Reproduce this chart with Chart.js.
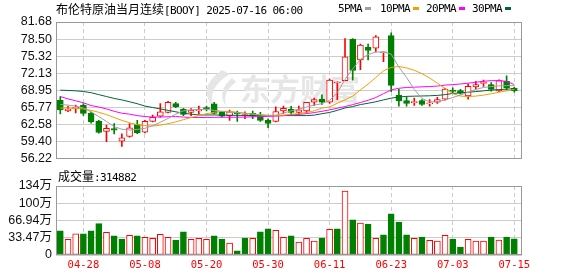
<!DOCTYPE html>
<html>
<head>
<meta charset="utf-8">
<script src="https://cdn.jsdelivr.net/npm/chart.js@4.4.0/dist/chart.umd.min.js"></script>
<style>
    body { margin: 0; background: #fff; }
    #wrap { position: relative; width: 578px; height: 276px; overflow: hidden; background: #fff; }
    canvas { position: absolute; left: 0; }
    .txt { position: absolute; white-space: nowrap; font: 12px/12px 'Noto Sans CJK SC'; color: #000; z-index: 2; }
    .lat { font: 11px/12px 'DejaVu Sans Mono'; letter-spacing: -0.6px; }
    .mk { position: absolute; width: 6px; height: 3px; top: 7px; z-index: 2; }
</style>
</head>
<body>
<div id="wrap">
    <canvas id="kline" width="578" height="170" style="top:0"></canvas>
    <canvas id="vol" width="578" height="106" style="top:170px"></canvas>

    <div class="txt" style="left:56px;top:3px">布伦特原油当月连续<span class="lat">[BOOY] 2025-07-16 06:00</span></div>

    <div class="txt lat" style="left:338px;top:3px">5PMA</div>
    <div class="mk" style="left:365px;background:#a0a0a0"></div>
    <div class="txt lat" style="left:380px;top:3px">10PMA</div>
    <div class="mk" style="left:413px;background:#f0a000"></div>
    <div class="txt lat" style="left:426px;top:3px">20PMA</div>
    <div class="mk" style="left:459px;background:#ff00ff"></div>
    <div class="txt lat" style="left:472px;top:3px">30PMA</div>
    <div class="mk" style="left:505px;background:#006633"></div>

    <div class="txt" style="left:58px;top:170px">成交量<span class="lat">:314882</span></div>
</div>

<script>
/**
 * K线 + 成交量 — gráfico de velas com médias móveis e volume (Chart.js).
 */

// Pregões (eixo x)
const DATAS = [
    '04-23', '04-24', '04-25', '04-28', '04-29', '04-30', '05-01', '05-02', '05-05', '05-06',
    '05-07', '05-08', '05-09', '05-12', '05-13', '05-14', '05-15', '05-16', '05-19', '05-20',
    '05-21', '05-22', '05-23', '05-26', '05-27', '05-28', '05-29', '05-30', '06-02', '06-03',
    '06-04', '06-05', '06-06', '06-09', '06-10', '06-11', '06-12', '06-13', '06-16', '06-17',
    '06-18', '06-19', '06-20', '06-23', '06-24', '06-25', '06-26', '06-27', '06-30', '07-01',
    '07-02', '07-03', '07-04', '07-07', '07-08', '07-09', '07-10', '07-11', '07-14', '07-15',
];

// Índices dos pregões que recebem rótulo
const ROTULOS_IDX = [3, 11, 19, 27, 35, 43, 51, 59];

const ABERTURA = [
    67.07, 65.10, 65.58, 66.17, 64.70, 63.21, 61.25, 61.79, 59.47, 60.36,
    62.57, 61.14, 63.15, 64.10, 64.81, 66.47, 65.41, 64.81, 65.10, 65.70,
    66.41, 64.81, 64.22, 64.81, 64.22, 64.63, 64.34, 63.33, 63.15, 65.11,
    65.41, 64.81, 65.11, 66.71, 67.30, 66.71, 70.30, 70.75, 78.44, 74.59,
    76.97, 76.79, 75.95, 79.15, 68.00, 67.00, 66.65, 67.01, 66.40, 66.71,
    67.30, 68.95, 68.90, 67.90, 69.55, 70.22, 70.00, 68.84, 70.60, 69.30,
];
const MAXIMA = [
    67.78, 65.96, 66.17, 66.48, 64.90, 63.33, 62.44, 62.74, 60.84, 62.74,
    63.33, 63.33, 64.34, 66.48, 66.89, 66.71, 65.59, 65.53, 66.00, 66.00,
    66.71, 64.93, 65.23, 65.05, 64.93, 65.05, 64.81, 63.63, 65.87, 66.00,
    65.96, 66.00, 66.71, 67.48, 68.08, 71.03, 70.50, 78.57, 78.60, 77.55,
    77.55, 79.15, 76.08, 79.64, 69.10, 67.78, 67.50, 67.19, 67.20, 67.65,
    69.30, 69.40, 69.10, 70.14, 70.60, 70.85, 70.40, 70.90, 71.65, 69.50,
];
const MINIMA = [
    64.52, 64.95, 64.74, 64.27, 62.80, 60.95, 59.37, 60.79, 58.48, 60.18,
    60.84, 60.97, 63.03, 63.92, 64.70, 65.70, 64.22, 64.22, 64.52, 65.10,
    64.52, 63.92, 63.33, 63.15, 63.63, 63.63, 63.15, 61.96, 63.03, 64.63,
    64.34, 64.34, 64.70, 66.10, 66.30, 66.50, 67.20, 70.75, 70.85, 72.81,
    74.59, 76.08, 74.30, 68.67, 66.00, 66.00, 66.10, 66.10, 66.00, 66.48,
    67.10, 68.30, 68.20, 67.30, 69.25, 69.68, 68.80, 68.67, 69.00, 68.60,
];
const FECHAMENTO = [
    65.29, 65.45, 65.62, 64.63, 63.03, 61.07, 61.86, 61.50, 60.08, 61.96,
    60.97, 63.15, 63.92, 64.93, 66.71, 65.87, 64.45, 65.23, 65.35, 65.50,
    64.63, 64.10, 64.93, 64.52, 64.27, 64.10, 63.33, 62.74, 64.99, 65.59,
    64.81, 65.29, 66.71, 67.19, 66.71, 70.85, 70.45, 75.19, 72.63, 77.38,
    76.36, 78.92, 76.08, 69.86, 66.95, 66.50, 66.70, 66.30, 66.50, 67.19,
    69.15, 68.75, 68.40, 69.68, 70.00, 70.30, 69.10, 70.75, 69.40, 68.85,
];

// Médias móveis
const MA5 = [
    66.30, 66.18, 66.00, 65.64, 64.93, 64.04, 63.15, 62.18, 61.68, 61.55,
    61.64, 61.85, 62.35, 62.98, 63.69, 64.49, 65.11, 65.29, 65.38, 65.38,
    65.20, 65.02, 64.84, 64.75, 64.67, 64.49, 64.31, 64.22, 64.31, 64.67,
    65.11, 65.41, 65.82, 66.18, 66.44, 67.07, 68.49, 70.98, 72.93, 74.71,
    75.60, 76.08, 76.08, 75.69, 73.29, 71.33, 69.11, 67.42, 66.80, 66.80,
    67.15, 67.60, 68.04, 68.58, 69.11, 69.47, 69.64, 69.77, 69.82, 69.79,
];
const MA10 = [
    65.64, 65.64, 65.55, 65.47, 65.20, 64.84, 64.40, 63.87, 63.33, 62.89,
    62.53, 62.35, 62.26, 62.44, 62.71, 63.06, 63.46, 63.87, 64.22, 64.58,
    64.84, 65.02, 65.02, 64.84, 64.67, 64.53, 64.40, 64.31, 64.22, 64.31,
    64.49, 64.58, 64.84, 65.11, 65.64, 65.82, 66.53, 67.15, 67.86, 69.02,
    70.09, 71.33, 72.58, 73.20, 73.38, 73.11, 72.67, 72.04, 71.24, 70.27,
    69.29, 68.31, 67.86, 67.78, 67.86, 68.04, 68.31, 68.58, 68.84, 69.11,
];
const MA20 = [
    67.78, 67.33, 66.98, 66.62, 66.09, 65.82, 65.47, 65.02, 64.67, 64.49,
    64.22, 64.04, 63.95, 63.95, 64.01, 64.04, 63.95, 63.87, 63.87, 63.87,
    63.90, 63.92, 63.92, 63.92, 63.95, 63.99, 64.04, 64.08, 64.13, 64.22,
    64.34, 64.45, 64.58, 64.79, 65.02, 65.29, 65.59, 65.91, 66.27, 66.66,
    67.07, 67.60, 68.31, 69.02, 69.32, 69.47, 69.52, 69.59, 69.64, 69.73,
    69.91, 70.00, 70.12, 70.27, 70.44, 70.62, 70.74, 70.74, 70.62, 70.00,
];
const MA30 = [
    68.97, 68.91, 68.84, 68.72, 68.49, 68.13, 67.78, 67.42, 67.15, 66.80,
    66.44, 66.00, 65.73, 65.47, 65.20, 64.93, 64.67, 64.49, 64.34, 64.34,
    64.34, 64.31, 64.29, 64.27, 64.26, 64.22, 64.22, 64.22, 64.22, 64.22,
    64.22, 64.22, 64.22, 64.31, 64.58, 64.81, 65.20, 65.64, 65.91, 66.27,
    66.53, 66.80, 67.15, 67.47, 67.69, 67.81, 67.85, 67.88, 67.92, 67.99,
    68.13, 68.35, 68.45, 68.58, 68.70, 68.84, 68.97, 69.07, 69.16, 69.23,
];

// Volume em 万 e cor da barra (1 = alta/vermelho, 0 = baixa/verde)
const VOLUME = [
    46.8, 30.5, 41.0, 41.0, 46.8, 61.0, 44.0, 37.0, 31.0, 38.0,
    37.0, 34.5, 32.5, 40.0, 34.5, 29.0, 45.0, 30.5, 32.5, 30.5,
    37.0, 31.0, 23.0, 8.0, 33.0, 32.5, 45.0, 51.0, 48.0, 34.5,
    37.0, 25.0, 32.5, 27.0, 33.0, 50.0, 51.0, 124.0, 68.0, 62.0,
    60.0, 32.5, 39.0, 80.0, 64.0, 39.0, 32.5, 35.0, 28.6, 27.0,
    38.0, 31.0, 15.6, 30.5, 27.0, 27.0, 35.0, 29.0, 35.0, 31.49,
];
const VOL_SOBE = [
    0, 1, 1, 0, 0, 0, 1, 0, 0, 1,
    0, 1, 1, 1, 1, 0, 0, 1, 1, 1,
    0, 0, 1, 0, 0, 1, 0, 0, 1, 1,
    0, 1, 1, 1, 0, 1, 0, 1, 0, 1,
    0, 1, 0, 0, 0, 0, 1, 0, 1, 1,
    1, 0, 0, 1, 1, 1, 0, 1, 0, 0,
];

// Marcas dos eixos y
const PRECO_TICKS = [56.22, 59.40, 62.58, 65.77, 68.95, 72.13, 75.32, 78.50, 81.68];
const VOL_TICKS = [0, 33.47, 66.94, 100.41, 133.88];
const VOL_ROTULOS = ['0', '33.47万', '66.94万', '100万', '134万'];

// Paleta
const CORES = {
    alta: '#ff0000',
    baixa: '#008000',
    ma5: '#a0a0a0',
    ma10: '#f0a000',
    ma20: '#ff00ff',
    ma30: '#006633',
    grade: '#cccccc',
    moldura: '#999999',
};

const FONTE_EIXO = "'Liberation Sans', Arial, 'Noto Sans CJK SC'";

const sobe = (i) => FECHAMENTO[i] >= ABERTURA[i];

// Moldura em volta da área do gráfico
const moldura = {
    id: 'moldura',
    afterDraw(chart) {
        const { ctx, chartArea: a } = chart;
        ctx.save();
        ctx.strokeStyle = CORES.moldura;
        ctx.lineWidth = 1;
        ctx.strokeRect(Math.round(a.left) + 0.5, Math.round(a.top) + 0.5,
            Math.round(a.right - a.left) - 1, Math.round(a.bottom - a.top) - 1);
        ctx.restore();
    },
};

// Marca d'água 东方财富
const marcaDagua = {
    id: 'marcaDagua',
    beforeDatasetsDraw(chart) {
        const { ctx } = chart;
        ctx.save();
        ctx.fillStyle = '#e6e6e6';
        ctx.beginPath();
        ctx.moveTo(222, 70);
        ctx.quadraticCurveTo(196, 88, 214, 108);
        ctx.quadraticCurveTo(206, 88, 230, 74);
        ctx.closePath();
        ctx.fill();
        ctx.beginPath();
        ctx.moveTo(232, 78);
        ctx.quadraticCurveTo(216, 92, 226, 106);
        ctx.quadraticCurveTo(222, 92, 236, 82);
        ctx.closePath();
        ctx.fill();
        ctx.font = "bold 30px 'Noto Sans CJK SC'";
        ctx.textBaseline = 'middle';
        ctx.fillText('东方财富', 240, 89);
        ctx.restore();
    },
};

function eixoX(comRotulos) {
    return {
        type: 'linear',
        min: -0.56,
        max: 60,
        offset: false,
        afterBuildTicks: (s) => { s.ticks = ROTULOS_IDX.map(v => ({ value: v })); },
        afterFit: (s) => { s.height = comRotulos ? 21 : 0; },
        grid: { offset: false, color: CORES.grade, drawTicks: false },
        border: { display: false, dash: [4, 3] },
        ticks: {
            display: comRotulos,
            autoSkip: false,
            maxRotation: 0,
            padding: 4,
            color: CORES.alta,
            font: { family: "'DejaVu Sans Mono'", size: 10.5 },
            callback: (v) => DATAS[v],
        },
    };
}

function eixoY(min, max, marcas, rotulo) {
    return {
        min,
        max,
        beginAtZero: false,
        afterBuildTicks: (s) => { s.ticks = marcas.map(v => ({ value: v })); },
        afterFit: (s) => { s.width = 56; },
        grid: { color: CORES.grade, drawTicks: false },
        border: { display: false },
        ticks: {
            autoSkip: false,
            padding: 4,
            color: '#111',
            font: { family: FONTE_EIXO, size: 12.5 },
            callback: rotulo,
        },
    };
}

function linhaMA(valores, cor) {
    return {
        type: 'line',
        data: valores.map((v, i) => ({ x: i, y: v })),
        borderColor: cor,
        borderWidth: 1,
        pointRadius: 0,
        tension: 0,
        fill: false,
        order: 0,
    };
}

// Velas
new Chart(document.getElementById('kline'), {
    type: 'bar',
    data: {
        datasets: [
            linhaMA(MA5, CORES.ma5),
            linhaMA(MA10, CORES.ma10),
            linhaMA(MA20, CORES.ma20),
            linhaMA(MA30, CORES.ma30),
            {
                // corpo
                data: ABERTURA.map((o, i) => ({ x: i, y: [o, FECHAMENTO[i]] })),
                backgroundColor: ABERTURA.map((_, i) => sobe(i) ? '#ffffff' : CORES.baixa),
                borderColor: ABERTURA.map((_, i) => sobe(i) ? CORES.alta : CORES.baixa),
                borderWidth: 1,
                borderSkipped: false,
                barThickness: 6,
                minBarLength: 1,
                grouped: false,
                order: 1,
            },
            {
                // sombra
                data: MINIMA.map((l, i) => ({ x: i, y: [l, MAXIMA[i]] })),
                backgroundColor: MINIMA.map((_, i) => sobe(i) ? CORES.alta : CORES.baixa),
                borderWidth: 0,
                barThickness: 1,
                grouped: false,
                order: 2,
            },
        ],
    },
    options: {
        responsive: false,
        animation: false,
        events: [],
        layout: { padding: { top: 22, right: 56, bottom: 5, left: 0 } },
        plugins: { legend: { display: false }, tooltip: { enabled: false } },
        scales: {
            x: eixoX(false),
            y: eixoY(56.22, 81.68, PRECO_TICKS, (v) => v.toFixed(2)),
        },
    },
    plugins: [marcaDagua, moldura],
});

// Volume
new Chart(document.getElementById('vol'), {
    type: 'bar',
    data: {
        datasets: [{
            data: VOLUME.map((v, i) => ({ x: i, y: v })),
            backgroundColor: VOL_SOBE.map(s => s ? '#ffffff' : CORES.baixa),
            borderColor: VOL_SOBE.map(s => s ? CORES.alta : CORES.baixa),
            borderWidth: 1,
            borderSkipped: false,
            barThickness: 6,
            grouped: false,
        }],
    },
    options: {
        responsive: false,
        animation: false,
        events: [],
        layout: { padding: { top: 16, right: 56, bottom: 0, left: 0 } },
        plugins: { legend: { display: false }, tooltip: { enabled: false } },
        scales: {
            x: eixoX(true),
            y: eixoY(0, 133.88, VOL_TICKS, (v, i) => VOL_ROTULOS[i]),
        },
    },
    plugins: [moldura],
});
</script>
</body>
</html>
